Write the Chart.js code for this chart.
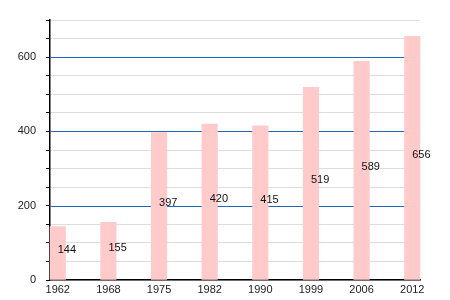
<!DOCTYPE html>
<html>
<head>
<meta charset="utf-8">
<script src="https://cdn.jsdelivr.net/npm/chart.js@4"></script>
<style>
  html, body { margin: 0; padding: 0; background: #fff; }
  #wrap { width: 450px; height: 300px; }
</style>
</head>
<body>
<div id="wrap"><canvas id="popChart"></canvas></div>
<script>
// data
const years = ['1962', '1968', '1975', '1982', '1990', '1999', '2006', '2012'];
const population = [144, 155, 397, 420, 415, 519, 589, 656];
const yLabelTicks = [0, 200, 400, 600];
const yStep = 50;
const yMax = 700;

Chart.defaults.font.family = '"Liberation Sans", Arial, sans-serif';
Chart.defaults.font.size = 11;
Chart.defaults.color = '#222';

// blue lines on the labelled y ticks, drawn over the light grey grid
const majorLines = {
    id: 'majorLines',
    beforeDatasetsDraw(chart) {
        const ctx = chart.ctx;
        const area = chart.chartArea;
        const y = chart.scales.y;
        ctx.save();
        ctx.fillStyle = '#2166b8';
        yLabelTicks.forEach(function (v) {
            if (v === 0) return;
            const py = Math.round(y.getPixelForValue(v));
            ctx.fillRect(area.left, py, area.right - area.left, 1);
        });
        ctx.restore();
    }
};

// value labels drawn at mid-height of each bar, starting at its centre
const valueLabels = {
    id: 'valueLabels',
    afterDatasetsDraw(chart) {
        const ctx = chart.ctx;
        const meta = chart.getDatasetMeta(0);
        ctx.save();
        ctx.font = '11px "Liberation Sans", Arial, sans-serif';
        ctx.fillStyle = '#111';
        ctx.textAlign = 'left';
        ctx.textBaseline = 'middle';
        meta.data.forEach(function (bar, i) {
            ctx.fillText(population[i], bar.x, (bar.y + bar.base) / 2 - 3);
        });
        ctx.restore();
    }
};

const ctx = document.getElementById('popChart').getContext('2d');
new Chart(ctx, {
    type: 'bar',
    data: {
        datasets: [{
            data: population.map(function (v, i) { return { x: i, y: v }; }),
            backgroundColor: '#ffcaca',
            borderWidth: 0,
            barThickness: 15.5,
            clip: false
        }]
    },
    options: {
        responsive: true,
        maintainAspectRatio: false,
        animation: false,
        layout: { padding: { left: 0, right: 30, top: 20, bottom: 0 } },
        plugins: {
            legend: { display: false },
            tooltip: { enabled: false }
        },
        scales: {
            x: {
                type: 'linear',
                offset: false,
                min: -0.153,
                max: 7.153,
                afterBuildTicks: function (scale) {
                    scale.ticks = years.map(function (_, i) { return { value: i }; });
                },
                afterFit: function (scale) { scale.height = 20; },
                grid: { display: false, drawTicks: false, tickLength: 0, offset: false },
                border: { display: true, color: '#000', width: 1.5 },
                ticks: {
                    padding: 3,
                    maxRotation: 0,
                    autoSkip: false,
                    color: '#222',
                    callback: function (v) { return years[v]; }
                }
            },
            y: {
                min: 0,
                max: yMax,
                afterFit: function (scale) { scale.width = 50; },
                grid: {
                    color: function (c) {
                        const v = c.tick ? c.tick.value : -1;
                        return (v > 0 && yLabelTicks.indexOf(v) >= 0) ? 'rgba(0,0,0,0)' : '#dedede';
                    },
                    lineWidth: 1,
                    tickColor: '#000',
                    tickLength: 4
                },
                border: { display: true, color: '#000', width: 1.5 },
                ticks: {
                    stepSize: yStep,
                    padding: 10,
                    color: '#222',
                    autoSkip: false,
                    callback: function (v) { return yLabelTicks.indexOf(v) >= 0 ? v : ''; }
                }
            }
        }
    },
    plugins: [majorLines, valueLabels]
});
</script>
</body>
</html>
